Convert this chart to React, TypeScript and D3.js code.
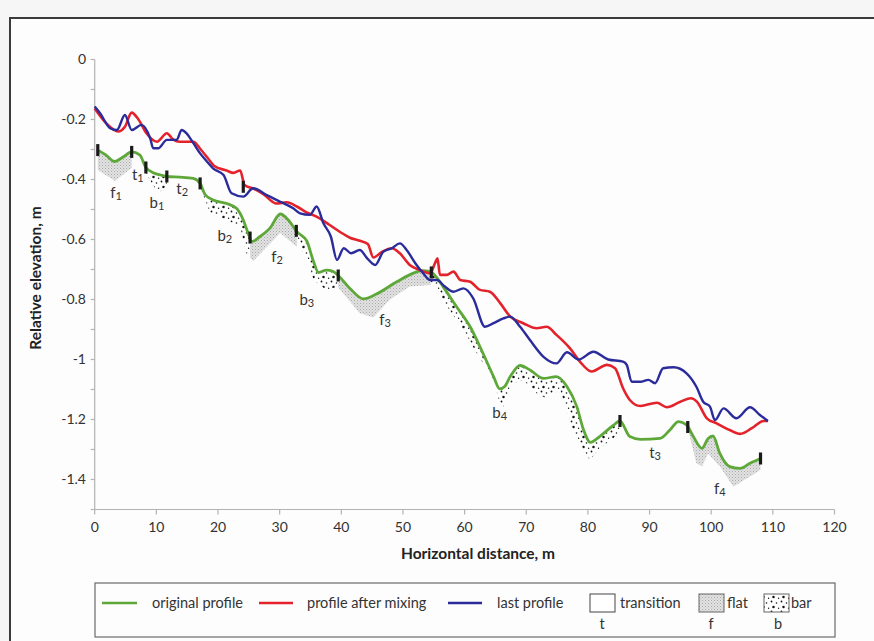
import React from "react";
import * as d3 from "d3";

type Pt = [number, number];

// Profiles: [horizontal distance (m), relative elevation (m)]
const originalProfile: Pt[] = [
  [0.5, -0.302], [1.8, -0.318], [3.2, -0.34], [4.6, -0.325], [6, -0.308], [7.3, -0.318],
  [8.3, -0.36], [9.6, -0.378], [10.7, -0.385], [11.7, -0.39], [13.8, -0.392], [16, -0.396],
  [17.1, -0.413], [17.9, -0.45], [19.2, -0.468], [21.4, -0.48], [23, -0.496], [24.1, -0.535],
  [24.9, -0.58], [25.5, -0.607], [26.8, -0.59], [28.4, -0.563], [30.1, -0.515], [31.4, -0.535],
  [32.8, -0.574], [34.4, -0.605], [35.5, -0.674], [36.3, -0.71], [37.6, -0.702], [38.6, -0.706],
  [39.5, -0.72], [41.4, -0.763], [43.6, -0.798], [45.7, -0.782], [49, -0.741], [51.7, -0.712],
  [53, -0.704], [54.4, -0.706], [55.4, -0.725], [56.5, -0.757], [58.7, -0.824], [60.9, -0.891],
  [63, -0.98], [64.7, -1.057], [65.7, -1.098], [66.5, -1.09], [67.4, -1.057], [69, -1.02],
  [70.6, -1.035], [72.8, -1.063], [74.9, -1.057], [76.6, -1.09], [78.2, -1.157], [79.3, -1.235],
  [80.4, -1.276], [81.9, -1.257], [84.1, -1.22], [85.2, -1.205], [86.8, -1.257], [88.5, -1.266],
  [91.7, -1.263], [93.3, -1.235], [94.7, -1.207], [96, -1.218], [97.1, -1.257], [98.5, -1.296],
  [99.5, -1.263], [100.3, -1.255], [101.4, -1.313], [103, -1.357], [104.7, -1.363],
  [106.3, -1.346], [108, -1.33],
];

const mixedProfile: Pt[] = [
  [0, -0.163], [1.9, -0.213], [3.8, -0.24], [4.9, -0.224], [6, -0.177], [7.1, -0.2],
  [8.4, -0.246], [10.1, -0.274], [11.7, -0.246], [12.7, -0.266], [13.8, -0.274], [16, -0.274],
  [17.2, -0.3], [18.4, -0.33], [19.4, -0.355], [21.4, -0.37], [22.5, -0.378], [23.6, -0.37],
  [24.3, -0.418], [25.7, -0.43], [27.3, -0.448], [29.5, -0.48], [31.1, -0.476], [32.8, -0.49],
  [34.4, -0.51], [36.2, -0.526], [38, -0.55], [39.8, -0.575], [41.4, -0.594], [43, -0.604],
  [44.3, -0.615], [45.2, -0.66], [46.6, -0.641], [48.2, -0.629], [49.5, -0.646], [51.1, -0.685],
  [52.8, -0.702], [54.4, -0.713], [55.2, -0.679], [55.6, -0.663], [56, -0.718], [57.1, -0.718],
  [58.2, -0.707], [59.3, -0.735], [60.9, -0.741], [62.5, -0.768], [64.1, -0.774], [65.8, -0.813],
  [67.4, -0.857], [69.5, -0.879], [71.7, -0.896], [73.3, -0.891], [74.9, -0.918], [77.1, -0.963],
  [78.7, -1.007], [80.6, -1.04], [83.1, -1.018], [84.4, -1.029], [85.7, -1.096], [86.8, -1.135],
  [88.5, -1.155], [91.2, -1.144], [92.8, -1.159], [95, -1.141], [96.7, -1.129], [97.7, -1.141],
  [99.3, -1.196], [100.9, -1.213], [103, -1.235], [104.7, -1.248], [106.6, -1.229],
  [108.5, -1.205], [109.2, -1.205],
];

const lastProfile: Pt[] = [
  [0, -0.157], [0.9, -0.18], [2.5, -0.229], [3.6, -0.235], [4.9, -0.185], [6, -0.235],
  [7.6, -0.218], [9, -0.263], [9.5, -0.296], [10.3, -0.296], [11.7, -0.268], [13.3, -0.268],
  [14.1, -0.235], [14.9, -0.246], [16, -0.279], [17.1, -0.313], [18.2, -0.34], [19.2, -0.363],
  [20.9, -0.385], [22.2, -0.446], [24.1, -0.457], [25.7, -0.429], [27.9, -0.452], [30.1, -0.474],
  [32.2, -0.496], [33.3, -0.513], [34.9, -0.518], [36, -0.49], [37.1, -0.546], [38.3, -0.59],
  [39.3, -0.668], [40.4, -0.629], [41.6, -0.646], [43, -0.635], [44.2, -0.663], [45.5, -0.685],
  [46.8, -0.641], [48.2, -0.629], [49.5, -0.613], [50.6, -0.635], [52, -0.679], [53.3, -0.713],
  [54.4, -0.735], [55.5, -0.735], [56.8, -0.757], [58.2, -0.774], [59.8, -0.763], [61.4, -0.796],
  [63.3, -0.891], [64.7, -0.879], [66.3, -0.863], [67.4, -0.857], [69, -0.891], [70.6, -0.935],
  [72.8, -0.991], [74.9, -1.013], [76.6, -0.976], [78.5, -1.0], [80.9, -0.974], [83.3, -1.0],
  [85.7, -1.007], [86.3, -1.018], [87.1, -1.074], [88.5, -1.074], [89.8, -1.068], [90.9, -1.079],
  [92.2, -1.029], [93.9, -1.026], [96, -1.046], [97.6, -1.091], [98.7, -1.141], [99.8, -1.157],
  [100.6, -1.202], [102, -1.163], [104.1, -1.196], [106.3, -1.159], [107.9, -1.185],
  [109.2, -1.205],
];

// Bed-form zones under the original profile
type Zone = { kind: "flat" | "bar"; from: number; to: number; lower: Pt[] };
const zones: Zone[] = [
  { kind: "flat", from: 0.5, to: 6, lower: [[0.5, -0.368], [3.3, -0.405], [6, -0.362]] },
  { kind: "bar", from: 8.3, to: 11.7, lower: [[8.3, -0.38], [10.3, -0.446], [11.7, -0.42]] },
  {
    kind: "bar", from: 17.1, to: 25.2,
    lower: [[17.1, -0.424], [18.7, -0.51], [21.4, -0.535], [23.6, -0.557], [24.6, -0.646], [25.2, -0.66]],
  },
  { kind: "flat", from: 25.2, to: 32.8, lower: [[25.2, -0.66], [25.7, -0.672], [30.1, -0.578], [32.8, -0.625]] },
  {
    kind: "bar", from: 32.8, to: 39.5,
    lower: [[32.8, -0.6], [34.9, -0.69], [35.5, -0.735], [37.6, -0.768], [39.5, -0.757]],
  },
  {
    kind: "flat", from: 39.5, to: 54.5,
    lower: [[39.5, -0.76], [43, -0.846], [45.2, -0.86], [47.9, -0.8], [51.1, -0.757], [54.5, -0.752]],
  },
  {
    kind: "bar", from: 54.5, to: 85.2,
    lower: [
      [54.5, -0.74], [55.5, -0.757], [56, -0.79], [59.8, -0.9], [62, -0.98], [64.7, -1.068],
      [65.7, -1.146], [66.3, -1.157], [67.9, -1.079], [69.5, -1.068], [71.7, -1.113], [73.3, -1.129],
      [75.5, -1.1], [77.6, -1.235], [79.3, -1.3], [80.3, -1.335], [81.9, -1.296], [84.1, -1.263],
      [85.2, -1.235],
    ],
  },
  {
    kind: "flat", from: 96.2, to: 108,
    lower: [
      [96.2, -1.23], [97.6, -1.346], [98.5, -1.357], [99.5, -1.313], [101.4, -1.357],
      [103.6, -1.424], [105.5, -1.4], [108, -1.368],
    ],
  },
];

// Zone boundary markers (distance along the profile)
const boundaryMarks: number[] = [0.5, 6, 8.3, 11.7, 17.1, 25.2, 32.7, 39.5, 54.6, 85.2, 96.2, 108];
const mixedMarks: number[] = [24.1];

// Zone labels: letter, index, distance, elevation
const zoneLabels: [string, string, number, number][] = [
  ["f", "1", 3.45, -0.445], ["t", "1", 7.0, -0.385], ["b", "1", 10.1, -0.478],
  ["t", "2", 14.2, -0.432], ["b", "2", 21.1, -0.588], ["f", "2", 29.6, -0.658],
  ["b", "3", 34.4, -0.802], ["f", "3", 47.1, -0.868], ["b", "4", 65.7, -1.178],
  ["t", "3", 90.9, -1.312], ["f", "4", 101.4, -1.432],
];

const xTicks: number[] = [0, 10, 20, 30, 40, 50, 60, 70, 80, 90, 100, 110, 120];
const yTickLabels: number[] = [0, -0.2, -0.4, -0.6, -0.8, -1, -1.2, -1.4];
const yMinorTicks: number[] = [0, -0.1, -0.2, -0.3, -0.4, -0.5, -0.6, -0.7, -0.8, -0.9, -1, -1.1, -1.2, -1.3, -1.4, -1.5];

const GREEN = "#5ea83a";
const RED = "#e3222b";
const BLUE = "#2b2c9b";
const FONT = "Lato, 'Open Sans', sans-serif";

const x = d3.scaleLinear().domain([0, 120]).range([94.7, 834.5]);
const y = d3.scaleLinear().domain([-1.5, 0]).range([509.5, 59.5]);

const smooth = d3
  .line<Pt>()
  .x((p) => x(p[0]))
  .y((p) => y(p[1]))
  .curve(d3.curveMonotoneX);
const straight = d3
  .line<Pt>()
  .x((p) => x(p[0]))
  .y((p) => y(p[1]));

function valueAt(series: Pt[], d: number): number {
  const i = d3.bisector((p: Pt) => p[0]).left(series, d);
  if (i <= 0) return series[0][1];
  if (i >= series.length) return series[series.length - 1][1];
  const [x0, y0] = series[i - 1];
  const [x1, y1] = series[i];
  return y0 + ((y1 - y0) * (d - x0)) / (x1 - x0);
}

function zonePath(z: Zone): string {
  const top: Pt[] = [
    [z.from, valueAt(originalProfile, z.from)],
    ...originalProfile.filter((p) => p[0] > z.from && p[0] < z.to),
    [z.to, valueAt(originalProfile, z.to)],
  ];
  const upper = smooth(top) || "";
  const lowerRev = [...z.lower].reverse();
  const lower = (straight(lowerRev) || "").replace(/^M/, "L");
  return upper + lower + "Z";
}

export default function App() {
  return (
    <svg
      width={874}
      height={641}
      style={{ position: "absolute", left: 0, top: 0, fontFamily: FONT }}
    >
      <defs>
        <pattern id="flatFill" width={3} height={3} patternUnits="userSpaceOnUse">
          <rect width={3} height={3} fill="#e2e2e2" />
          <rect x={0} y={0} width={1} height={1} fill="#a9a9a9" />
          <rect x={1.5} y={1.5} width={1} height={1} fill="#bdbdbd" />
        </pattern>
        <pattern id="barFill" width={10} height={10} patternUnits="userSpaceOnUse">
          <rect width={10} height={10} fill="#ffffff" />
          <circle cx={1.5} cy={1.5} r={0.9} fill="#111" />
          <circle cx={6.5} cy={3} r={0.8} fill="#111" />
          <circle cx={3.5} cy={7} r={1.25} fill="#111" />
          <circle cx={8.6} cy={8.2} r={0.7} fill="#111" />
        </pattern>
      </defs>

      <rect width={874} height={641} fill="#f6f6f6" />
      <rect x={10} y={18} width={880} height={640} fill="#fdfdfd" stroke="#3b3b3b" strokeWidth={2} />

      {/* y axis */}
      <line x1={x(0)} x2={x(0)} y1={y(0)} y2={y(-1.5)} stroke="#b3b3b3" strokeWidth={1.2} />
      {yMinorTicks.map((v) => (
        <line key={"yt" + v} x1={x(0) - 4} x2={x(0)} y1={y(v)} y2={y(v)} stroke="#b3b3b3" strokeWidth={1.2} />
      ))}
      {yTickLabels.map((v) => (
        <text key={"yl" + v} x={86} y={y(v)} dy="0.35em" textAnchor="end" fontSize={14} fill="#333">
          {String(Math.round(v * 10) / 10)}
        </text>
      ))}

      {/* x axis */}
      <line x1={x(0)} x2={x(120)} y1={y(-1.5)} y2={y(-1.5)} stroke="#b3b3b3" strokeWidth={1.2} />
      {xTicks.map((v) => (
        <g key={"xt" + v}>
          <line x1={x(v)} x2={x(v)} y1={y(-1.5)} y2={y(-1.5) + 5} stroke="#b3b3b3" strokeWidth={1.2} />
          <text x={x(v)} y={y(-1.5) + 22} textAnchor="middle" fontSize={14} fill="#333">
            {v}
          </text>
        </g>
      ))}

      <text x={478} y={559} textAnchor="middle" fontSize={15.5} fontWeight="bold" fill="#222">
        Horizontal distance, m
      </text>
      <text
        transform="translate(41,278) rotate(-90)"
        textAnchor="middle"
        fontSize={15.5}
        fontWeight="bold"
        fill="#222"
      >
        Relative elevation, m
      </text>

      {/* bed-form zones */}
      {zones.map((z, i) => (
        <path key={"z" + i} d={zonePath(z)} fill={z.kind === "flat" ? "url(#flatFill)" : "url(#barFill)"} />
      ))}

      {/* profiles */}
      <path d={smooth(originalProfile) || ""} fill="none" stroke={GREEN} strokeWidth={2.8} />
      <path d={smooth(mixedProfile) || ""} fill="none" stroke={RED} strokeWidth={2.6} />
      <path d={smooth(lastProfile) || ""} fill="none" stroke={BLUE} strokeWidth={2.4} />

      {/* zone boundary marks */}
      {boundaryMarks.map((d) => (
        <rect
          key={"m" + d}
          x={x(d) - 1.6}
          y={y(valueAt(originalProfile, d)) - 6}
          width={3.2}
          height={12}
          fill="#1a1a1a"
        />
      ))}
      {mixedMarks.map((d) => (
        <rect
          key={"mm" + d}
          x={x(d) - 1.6}
          y={y(valueAt(mixedProfile, d) - 0.02) - 6}
          width={3.2}
          height={12}
          fill="#1a1a1a"
        />
      ))}

      {/* zone labels */}
      {zoneLabels.map(([letter, idx, d, e]) => (
        <text key={letter + idx} x={x(d)} y={y(e)} dy="0.35em" textAnchor="middle" fontSize={15} fill="#333">
          {letter}
          <tspan fontSize={11} dy={1.5}>
            {idx}
          </tspan>
        </text>
      ))}

      {/* legend */}
      <rect x={95} y={583} width={740} height={54} fill="#fdfdfd" stroke="#6b6b6b" strokeWidth={1.2} />
      <g fontSize={14.5} fill="#333">
        <line x1={102} x2={137} y1={603} y2={603} stroke={GREEN} strokeWidth={2.6} />
        <text x={152} y={608}>original profile</text>
        <line x1={259} x2={293} y1={603} y2={603} stroke={RED} strokeWidth={2.6} />
        <text x={307} y={608}>profile after mixing</text>
        <line x1={448} x2={482} y1={603} y2={603} stroke={BLUE} strokeWidth={2.6} />
        <text x={497} y={608}>last profile</text>

        <rect x={590} y={594} width={25} height={18} fill="#fff" stroke="#444" strokeWidth={1} />
        <text x={620} y={608}>transition</text>
        <text x={602} y={629} textAnchor="middle">t</text>

        <rect x={699} y={594} width={25} height={18} fill="url(#flatFill)" stroke="#666" strokeWidth={1} />
        <text x={727} y={608}>flat</text>
        <text x={711} y={629} textAnchor="middle">f</text>

        <rect x={764} y={594} width={25} height={18} fill="url(#barFill)" stroke="#666" strokeWidth={1} />
        <text x={791} y={608}>bar</text>
        <text x={778} y={629} textAnchor="middle">b</text>
      </g>
    </svg>
  );
}
